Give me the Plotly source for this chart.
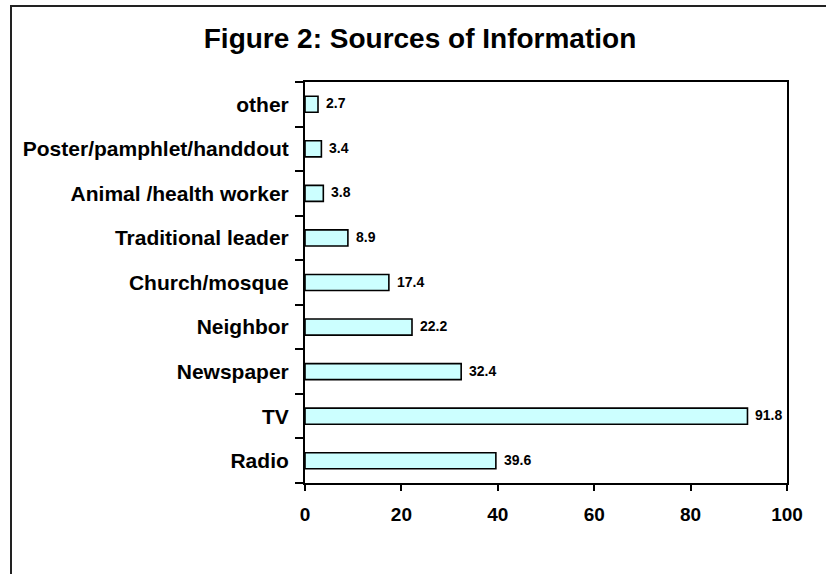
import plotly.graph_objects as go

categories = ["Radio", "TV", "Newspaper", "Neighbor", "Church/mosque",
              "Traditional leader", "Animal /health worker",
              "Poster/pamphlet/handdout", "other"]
values = [39.6, 91.8, 32.4, 22.2, 17.4, 8.9, 3.8, 3.4, 2.7]
value_labels = ["39.6", "91.8", "32.4", "22.2", "17.4", "8.9", "3.8", "3.4", "2.7"]
x_ticks = [0, 20, 40, 60, 80, 100]
title_text = "Figure 2: Sources of Information"

FONT = "Liberation Sans, Arial, sans-serif"

fig = go.Figure()
fig.add_trace(go.Bar(
    y=categories, x=values, orientation="h",
    marker=dict(color="#CCFFFF", line=dict(color="black", width=1.6)),
    hoverinfo="skip",
))

for cat, val, lab in zip(categories, values, value_labels):
    fig.add_annotation(x=val, y=cat, xref="x", yref="y", text=lab,
                       showarrow=False, xanchor="left", yanchor="middle",
                       xshift=6, yshift=1,
                       font=dict(family=FONT, size=14, color="black", weight="bold"))

W, H = 826, 574
L, R, T, B = 305, 39, 82, 91
pw, ph = W - L - R, H - T - B

fig.update_layout(
    width=W, height=H,
    margin=dict(l=L, r=R, t=T, b=B, pad=0),
    paper_bgcolor="white", plot_bgcolor="white",
    bargap=0.64, showlegend=False,
    font=dict(family=FONT, color="black"),
    title=dict(text=title_text, x=420 / W, xref="container", xanchor="center",
               y=1 - 38 / H, yref="container", yanchor="middle",
               font=dict(family=FONT, size=28, color="black", weight="bold")),
    xaxis=dict(range=[0, 100], tickvals=x_ticks, ticktext=[str(v) for v in x_ticks],
               showgrid=False, zeroline=False, showline=True, linecolor="black",
               linewidth=2, mirror=True, ticks="outside", ticklen=6, tickwidth=2,
               tickcolor="black", ticklabelstandoff=7,
               tickfont=dict(family=FONT, size=19, color="black", weight="bold"),
               fixedrange=True),
    yaxis=dict(type="category", categoryorder="array", categoryarray=categories,
               showgrid=False, zeroline=False, showline=True, linecolor="black",
               linewidth=2, mirror=True, ticks="outside", ticklen=8, tickwidth=2,
               tickcolor="black", tickson="boundaries", ticklabelstandoff=10,
               tickfont=dict(family=FONT, size=21, color="black", weight="bold"),
               fixedrange=True),
    shapes=[dict(type="rect", xref="paper", yref="paper",
                 x0=(11 - L) / pw, x1=(840 - L) / pw,
                 y0=-(600 - (H - B)) / ph, y1=1 + (T - 6) / ph,
                 line=dict(color="#222222", width=2), fillcolor="rgba(0,0,0,0)",
                 layer="below")],
)

fig.write_html("out.html", config={"displayModeBar": False})
